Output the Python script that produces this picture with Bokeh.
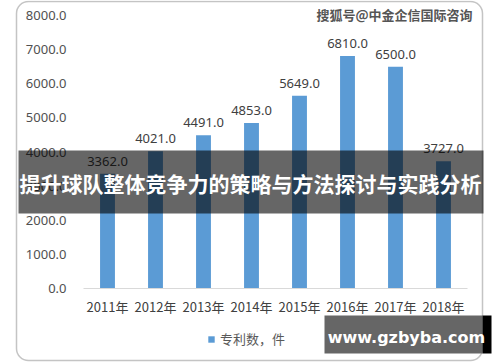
from bokeh.plotting import figure
from bokeh.models import (ColumnDataSource, Range1d, LabelSet, Label, FixedTicker,
                          BoxAnnotation, Legend, LegendItem, NumeralTickFormatter)
from bokeh.core.properties import value
from bokeh.embed import file_html
from bokeh.resources import INLINE

# ---- data ----
years = ["2011年", "2012年", "2013年", "2014年", "2015年", "2016年", "2017年", "2018年"]
patents = [3362.0, 4021.0, 4491.0, 4853.0, 5649.0, 6810.0, 6500.0, 3727.0]
patent_labels = [f"{v:.1f}" for v in patents]
y_ticks = [0, 1000, 2000, 3000, 4000, 5000, 6000, 7000, 8000]
series_name = "专利数，件"
banner_text = "提升球队整体竞争力的策略与方法探讨与实践分析"
mark_top = "搜狐号@中金企信国际咨询"
mark_bottom = "www.gzbyba.com"

# ---- layout (canvas pixels) ----
W, H = 500, 362
PL, PR, PT, PB = 83, 467, 15, 288   # plot area inside the canvas
YMAX = 8000
n = len(years)
cat_px = (PR - PL) / n
val_px = (PB - PT) / YMAX

def sx(cx):
    return cx

def sy(cy):
    return H - cy

idx = list(range(n))
src = ColumnDataSource(dict(x=idx, patents=patents, labels=patent_labels))

x_range = Range1d(-0.5 - PL / cat_px, n - 0.5 + (W - PR) / cat_px)
y_range = Range1d(-(H - PB) / val_px, YMAX + PT / val_px)

p = figure(width=W, height=H, x_range=x_range, y_range=y_range,
           output_backend="svg", toolbar_location=None,
           min_border=0, min_border_left=0, min_border_right=0,
           min_border_top=0, min_border_bottom=0)
p.outline_line_color = None
p.xgrid.grid_line_color = None
p.ygrid.grid_line_color = None
p.background_fill_color = "white"
p.border_fill_color = "white"

r = p.vbar(x="x", top="patents", width=0.31, source=src,
           fill_color="#5b9bd5", line_color=None)

# y axis drawn at the left edge of the plot area
p.yaxis.fixed_location = -0.5
p.yaxis.bounds = (0, YMAX)
p.yaxis.ticker = FixedTicker(ticks=y_ticks)
p.yaxis.formatter = NumeralTickFormatter(format="0.0")
p.yaxis.axis_line_color = None
p.yaxis.major_tick_line_color = None
p.yaxis.minor_tick_line_color = None
p.yaxis.major_tick_out = 0
p.yaxis.major_tick_in = 0
p.yaxis.major_label_standoff = 17
p.yaxis.major_label_text_font = "Noto Sans"
p.yaxis.major_label_text_font_size = "13px"
p.yaxis.major_label_text_color = "#505050"

# x axis drawn at y = 0
p.xaxis.fixed_location = 0
p.xaxis.bounds = (-0.5, n - 0.5)
p.xaxis.ticker = FixedTicker(ticks=idx)
p.xaxis.major_label_overrides = {i: y for i, y in zip(idx, years)}
p.xaxis.axis_line_color = "#d9d9d9"
p.xaxis.major_tick_line_color = None
p.xaxis.minor_tick_line_color = None
p.xaxis.major_tick_out = 0
p.xaxis.major_tick_in = 0
p.xaxis.major_label_standoff = 8
p.xaxis.major_label_text_font = "Noto Sans CJK SC"
p.xaxis.major_label_text_font_size = "13px"
p.xaxis.major_label_text_color = "#404040"

labels = LabelSet(x="x", y="patents", text="labels", source=src,
                  text_align="center", text_baseline="bottom", y_offset=8,
                  text_font=value("Noto Sans"), text_font_size="13px", text_color="#404040")
p.add_layout(labels)

legend = Legend(items=[LegendItem(label=series_name, renderers=[r])],
                orientation="horizontal", location=(sx(207), sy(348)),
                border_line_color=None, background_fill_alpha=0,
                label_text_font="Noto Sans CJK SC", label_text_font_size="13px",
                label_text_color="#595959", glyph_width=8, glyph_height=8,
                margin=0, padding=2, label_standoff=5)
p.add_layout(legend)

# outer rounded frame
p.add_layout(BoxAnnotation(left=sx(16), right=sx(482), top=sy(1), bottom=sy(360),
                           left_units="screen", right_units="screen",
                           top_units="screen", bottom_units="screen",
                           fill_alpha=0, line_color="#3a3a3a", line_width=1.5,
                           border_radius=12, level="overlay"))

# top watermark
p.add_layout(Label(x=sx(394), y=sy(14), x_units="screen", y_units="screen", text=mark_top,
                   text_align="center", text_baseline="middle", text_font="Noto Sans CJK SC",
                   text_font_size="13px", text_font_style="bold", text_color="#555555",
                   level="overlay"))

# banner
p.add_layout(BoxAnnotation(left=sx(18), right=sx(483), top=sy(150), bottom=sy(213),
                           left_units="screen", right_units="screen",
                           top_units="screen", bottom_units="screen",
                           fill_color="black", fill_alpha=0.6, line_color=None, level="overlay"))
p.add_layout(Label(x=sx(250), y=sy(182), x_units="screen", y_units="screen", text=banner_text,
                   text_align="center", text_baseline="middle", text_font="Noto Sans CJK SC",
                   text_font_size="21px", text_font_style="bold", text_color="white",
                   level="overlay"))

# bottom-right watermark
p.add_layout(BoxAnnotation(left=sx(324), right=sx(482), top=sy(315), bottom=sy(353),
                           left_units="screen", right_units="screen",
                           top_units="screen", bottom_units="screen",
                           fill_color="#666666", fill_alpha=1, line_color=None, level="overlay"))
p.add_layout(BoxAnnotation(left=sx(482), right=sx(491), top=sy(315), bottom=sy(353),
                           left_units="screen", right_units="screen",
                           top_units="screen", bottom_units="screen",
                           fill_color="black", fill_alpha=1, line_color=None, level="overlay"))
p.add_layout(Label(x=sx(406), y=sy(337), x_units="screen", y_units="screen", text=mark_bottom,
                   text_align="center", text_baseline="middle", text_font="DejaVu Sans",
                   text_font_size="16px", text_font_style="bold", text_color="white",
                   level="overlay"))

open("out.html", "w").write(file_html(p, INLINE))
